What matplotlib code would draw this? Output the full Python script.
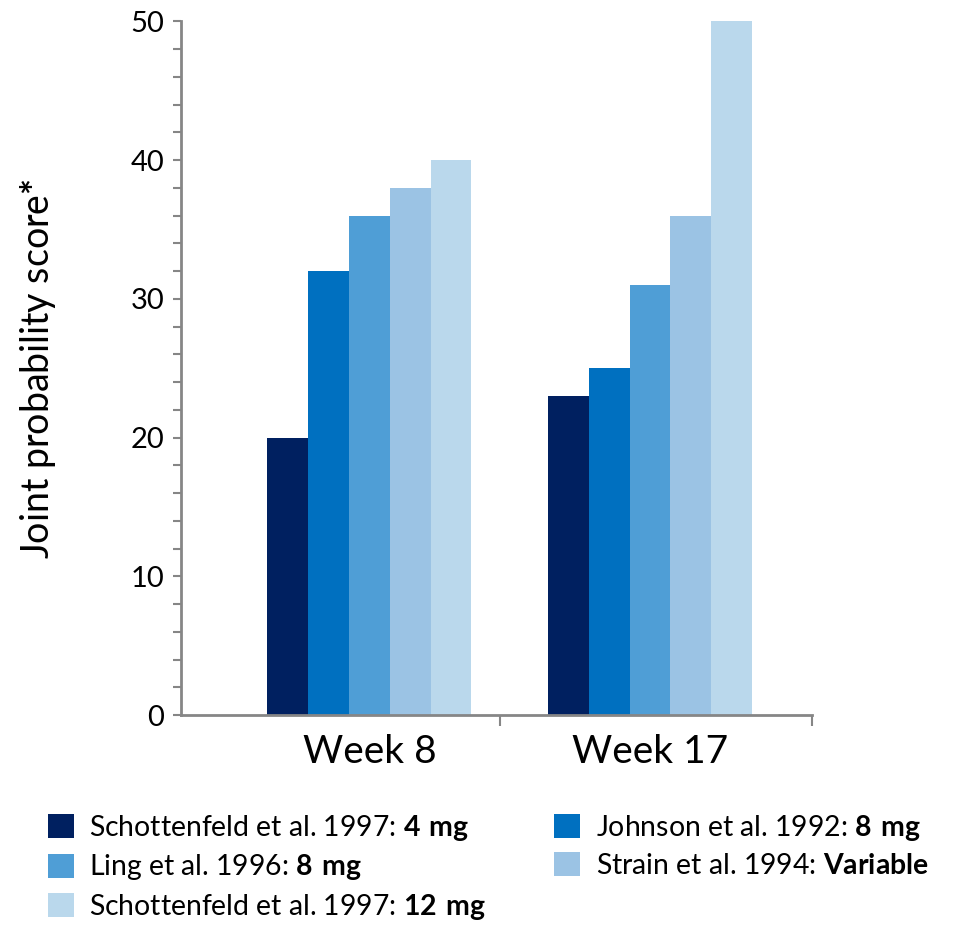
import matplotlib
matplotlib.use("Agg")
import matplotlib.pyplot as plt
import numpy as np

plt.rcParams['font.family'] = ['Lato', 'DejaVu Sans']
plt.rcParams['mathtext.fontset'] = 'custom'
plt.rcParams['mathtext.rm'] = 'Lato'
plt.rcParams['mathtext.bf'] = 'Lato:bold'

categories = ["Week 8", "Week 17"]
series_names = [
    r"Schottenfeld et al. 1997: $\mathbf{4\ mg}$",
    r"Johnson et al. 1992: $\mathbf{8\ mg}$",
    r"Ling et al. 1996: $\mathbf{8\ mg}$",
    r"Strain et al. 1994: $\mathbf{Variable}$",
    r"Schottenfeld et al. 1997: $\mathbf{12\ mg}$",
]
values = [
    [20, 23],
    [32, 25],
    [36, 31],
    [38, 36],
    [40, 50],
]
colors = ["#002060", "#0070C0", "#4F9ED6", "#9BC3E4", "#BAD8EC"]

fig = plt.figure(figsize=(9.74, 9.25), dpi=100)
ax = fig.add_axes([0.1858, 0.227, 0.6479, 0.750])

x = np.arange(len(categories))
w = 0.1455
handles = []
for i, (name, vals, c) in enumerate(zip(series_names, values, colors)):
    b = ax.bar(x + (i - 2) * w, vals, width=w, color=c, label=name, linewidth=0)
    handles.append(b)

ax.set_ylim(0, 50)
ax.set_xlim(-0.672, 1.578)
ax.set_yticks([0, 10, 20, 30, 40, 50])
ax.set_yticks(np.arange(0, 51, 2), minor=True)
ax.tick_params(axis='y', which='both', direction='out', length=6, width=1.5,
               color='#868686', labelsize=21, pad=6)
ax.set_xticks([0.465, 1.578], minor=True)
ax.set_xticks(x)
ax.set_xticklabels(categories, fontsize=28)
ax.tick_params(axis='x', which='major', length=0, pad=14)
ax.tick_params(axis='x', which='minor', direction='out', length=8, width=1.5, color='#868686')
for s in ['top', 'right']:
    ax.spines[s].set_visible(False)
for s in ['left', 'bottom']:
    ax.spines[s].set_color('#868686')
    ax.spines[s].set_linewidth(2)

ax.set_ylabel("Joint probability score$\\mathbf{*}$", fontsize=27, labelpad=52)

order = [0, 2, 4, 1, 3]
fig.legend([handles[i] for i in order], [series_names[i] for i in order],
           ncol=2, loc='upper left', bbox_to_anchor=(0.049, 0.121),
           frameon=False, fontsize=20.4, handlelength=0.92, handleheight=0.92,
           handletextpad=0.55, labelspacing=0.33, columnspacing=2.4,
           borderaxespad=0, borderpad=0)

fig.savefig("out.png", dpi=100)
